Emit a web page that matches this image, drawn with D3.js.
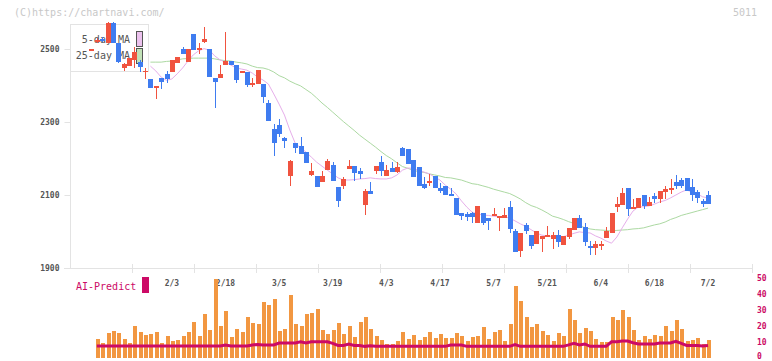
<!DOCTYPE html>
<html>
<head>
<meta charset="utf-8">
<script src="https://cdn.jsdelivr.net/npm/d3@7"></script>
<style>
  body { margin: 0; background: #fff; }
  svg text { font-family: "DejaVu Sans Mono", monospace; }
</style>
</head>
<body>
<svg id="chart" width="772" height="361"></svg>
<script>
/*************************
 *  data
 *************************/
const open = [
  2498, 2519, 2528, 2516, 2571, 2516, 2448, 2453, 2470, 2464,
  2439, 2418, 2393, 2421, 2432, 2437, 2462, 2500, 2464, 2541,
  2497, 2519, 2500, 2421, 2421, 2456, 2467, 2456, 2434, 2437,
  2401, 2404, 2404, 2352, 2281, 2292, 2256, 2152, 2242, 2234,
  2218, 2155, 2152, 2136, 2168, 2182, 2122, 2125, 2171, 2179,
  2166, 2073, 2111, 2166, 2190, 2152, 2174, 2163, 2229, 2226,
  2196, 2177, 2130, 2133, 2152, 2119, 2125, 2103, 2092, 2051,
  2048, 2051, 2023, 2051, 2037, 2042, 2037, 2037, 2067, 2001,
  1947, 2018, 1990, 1966, 1979, 1985, 1979, 1990, 1963, 1985,
  2004, 2037, 2012, 1960, 1955, 1960, 1982, 1996, 2067, 2073,
  2119, 2064, 2064, 2100, 2070, 2097, 2089, 2108, 2114, 2136,
  2141, 2147, 2122, 2108, 2084, 2100
]
const high = [
  2500, 2529, 2532, 2575, 2575, 2516, 2462, 2475, 2505, 2470,
  2448, 2418, 2399, 2421, 2440, 2470, 2478, 2505, 2500, 2541,
  2516, 2560, 2500, 2421, 2456, 2547, 2467, 2456, 2440, 2437,
  2421, 2442, 2404, 2360, 2295, 2308, 2259, 2196, 2242, 2259,
  2218, 2188, 2152, 2166, 2199, 2190, 2122, 2149, 2196, 2179,
  2174, 2116, 2136, 2179, 2207, 2182, 2190, 2190, 2232, 2226,
  2196, 2177, 2149, 2158, 2152, 2133, 2125, 2119, 2092, 2051,
  2053, 2053, 2070, 2051, 2037, 2064, 2042, 2064, 2084, 2007,
  1996, 2023, 1990, 2001, 1988, 2015, 1999, 2004, 1988, 2010,
  2037, 2045, 2023, 1974, 1974, 1974, 2012, 2051, 2095, 2119,
  2119, 2089, 2092, 2100, 2095, 2105, 2111, 2125, 2144, 2155,
  2147, 2147, 2144, 2114, 2089, 2111
]
const low = [
  2498, 2516, 2519, 2516, 2516, 2462, 2440, 2453, 2448, 2437,
  2418, 2393, 2363, 2390, 2407, 2437, 2462, 2486, 2464, 2497,
  2486, 2516, 2423, 2338, 2421, 2456, 2456, 2407, 2434, 2396,
  2396, 2404, 2352, 2303, 2207, 2259, 2229, 2125, 2215, 2212,
  2188, 2152, 2122, 2136, 2168, 2138, 2067, 2116, 2171, 2138,
  2144, 2045, 2103, 2158, 2152, 2152, 2163, 2160, 2207, 2185,
  2149, 2125, 2116, 2125, 2119, 2105, 2100, 2097, 2045, 2032,
  2029, 2023, 2023, 2018, 2004, 2042, 2001, 2037, 1996, 1944,
  1930, 1993, 1952, 1966, 1944, 1985, 1952, 1958, 1963, 1979,
  2004, 2010, 1960, 1936, 1936, 1949, 1982, 1996, 2053, 2073,
  2042, 2064, 2064, 2062, 2070, 2078, 2078, 2089, 2103, 2116,
  2119, 2111, 2084, 2078, 2067, 2075
]
const close = [
  2500, 2525, 2522, 2571, 2516, 2464, 2459, 2475, 2492, 2451,
  2441, 2393, 2399, 2410, 2418, 2470, 2478, 2486, 2500, 2497,
  2503, 2528, 2423, 2410, 2432, 2467, 2456, 2415, 2440, 2401,
  2407, 2442, 2368, 2303, 2242, 2267, 2248, 2193, 2229, 2212,
  2188, 2166, 2122, 2152, 2193, 2138, 2084, 2144, 2179, 2160,
  2158, 2111, 2103, 2179, 2166, 2168, 2163, 2177, 2207, 2185,
  2149, 2125, 2119, 2138, 2119, 2111, 2100, 2097, 2045, 2042,
  2040, 2040, 2070, 2023, 2029, 2048, 2042, 2045, 2007, 1944,
  1996, 2001, 1960, 2001, 1988, 1990, 1990, 1971, 1988, 2010,
  2037, 2010, 1971, 1955, 1966, 1966, 2001, 2051, 2075, 2105,
  2062, 2067, 2092, 2070, 2081, 2089, 2111, 2116, 2119, 2125,
  2125, 2111, 2100, 2092, 2075, 2075
]
const ma5 = [
  null, null, null, null, null, null, null, null, null, null,
  null, 2453, 2440, 2423, 2414, 2418, 2432, 2448, 2467, 2484,
  2495, 2501, 2497, 2481, 2470, 2464, 2456, 2448, 2445, 2442,
  2434, 2423, 2415, 2404, 2377, 2349, 2319, 2278, 2242, 2229,
  2218, 2204, 2190, 2179, 2168, 2158, 2147, 2141, 2141, 2142,
  2144, 2145, 2147, 2145, 2144, 2144, 2147, 2155, 2168, 2174,
  2173, 2167, 2163, 2158, 2149, 2141, 2127, 2116, 2103, 2084,
  2067, 2053, 2048, 2045, 2044, 2042, 2041, 2040, 2037, 2029,
  2021, 2014, 2005, 1996, 1990, 1988, 1986, 1985, 1986, 1990,
  1995, 1999, 1997, 1996, 1988, 1982, 1974, 1968, 1985, 2010,
  2034, 2056, 2067, 2068, 2070, 2075, 2081, 2085, 2092, 2100,
  2108, 2114, 2108, 2103, 2095, 2092
]
const ma25 = [
  null, null, null, null, null, null, null, null, null, null,
  null, 2464, 2464, 2464, 2466, 2467, 2470, 2473, 2474, 2475,
  2475, 2475, 2475, 2473, 2470, 2468, 2467, 2464, 2462, 2459,
  2453, 2449, 2448, 2444, 2437, 2427, 2421, 2412, 2405, 2399,
  2389, 2379, 2366, 2352, 2340, 2327, 2314, 2301, 2289, 2277,
  2264, 2253, 2242, 2231, 2219, 2208, 2199, 2188, 2178, 2173,
  2168, 2164, 2162, 2158, 2155, 2152, 2148, 2147, 2144, 2141,
  2136, 2131, 2129, 2125, 2121, 2116, 2112, 2108, 2104, 2097,
  2089, 2079, 2071, 2066, 2059, 2051, 2042, 2038, 2033, 2027,
  2022, 2015, 2011, 2007, 2005, 2004, 2003, 2001, 2003, 2004,
  2005, 2007, 2008, 2010, 2014, 2018, 2021, 2026, 2033, 2038,
  2044, 2048, 2052, 2056, 2060, 2064
]
const volume = [
  null, 11.9, 9.4, 15.6, 16.9, 15.6, 11.9, 9.4, 20, 16.3,
  14.4, 15, 16.3, 9.4, 13.8, 10.6, 11.3, 13.8, 16.3, 22.5,
  13.8, 27.5, 17.5, 49.4, 20, 29.4, 13.1, 18.1, 16.3, 25.6,
  21.9, 21.3, 35, 33.1, 36.9, 16.9, 18.1, 39.4, 21.3, 20,
  27.5, 28.1, 30.6, 17.5, 15, 17.5, 22, 15, 20, 13.1,
  22.5, 25.6, 18.1, 13.8, 11.3, 8.8, 8.8, 10.6, 16.3, 11.9,
  14.4, 11.3, 13.1, 16.3, 12.5, 15, 12.5, 12.5, 15.6, 13.8,
  10.6, 13.1, 13.8, 19.4, 11.9, 16.3, 17.5, 10.6, 21.3, 45,
  35.6, 25.6, 19.4, 21.3, 16.9, 14.4, 10.6, 15.6, 13.8, 30.6,
  23.8, 15.6, 18.8, 16.9, 11.9, 10, 10, 25.6, 23.8, 30,
  25.6, 17.5, 11.3, 13.8, 11.9, 14.4, 13.8, 20, 16.9, 23.8,
  18.1, 10.6, 11.3, 12.5, 8.8, 11.3
]
const aiPredict = [
  null, 7.5, 7.5, 7.5, 7.5, 7.5, 7.5, 7.5, 7.5, 7.5,
  7.5, 7.5, 7.5, 7.5, 7.5, 7.5, 7.5, 7.5, 7.5, 7.5,
  7.5, 7.5, 7.5, 7.5, 7.5, 8.2, 7.5, 7.5, 7.5, 7.5,
  8.2, 8.5, 8.2, 8.2, 8.2, 9.4, 9.4, 9.4, 9.4, 10.2,
  9.4, 10.2, 10.2, 10.2, 10.2, 9.2, 7.9, 7.9, 8.8, 7.9,
  7.9, 7.3, 7.7, 7.3, 7.3, 7.3, 7.3, 7.3, 7.3, 7.3,
  7.3, 7.3, 7.3, 7.3, 7.3, 7.3, 7.3, 8.2, 8.2, 8.2,
  7.3, 7.3, 7.3, 7.3, 7.3, 7.3, 7.3, 7.3, 7.3, 8.4,
  7.3, 7.3, 7.3, 7.3, 7.3, 7.3, 7.3, 7.3, 7.3, 8.2,
  9.2, 8.2, 8.8, 7.3, 7.3, 7.3, 7.3, 10.2, 10.2, 10.6,
  10.6, 9.6, 8.8, 8.8, 8.8, 8.8, 9.4, 9.4, 9.4, 10.4,
  9.2, 7.9, 7.9, 7.9, 7.5, 7.9
]
const dateLabels = ["2/3", "2/18", "3/5", "3/19", "4/3", "4/17", "5/7", "5/21", "6/4", "6/18", "7/2"]
const dateIndex = [15, 25, 35, 45, 55, 65, 75, 85, 95, 105, 115]
const priceTicks = [1900, 2100, 2300, 2500]
const volumeTicks = [0, 10, 20, 30, 40, 50]

const upColor = '#f0533f'
const downColor = '#3f7cf0'
const aiColor = '#cc0a66'

/*************************
 *  scales
 *************************/
const svg = d3.select('#chart')

let x = d3.scaleLinear()
    .domain([-4, 123.2])
    .range([70, 752])

let y = d3.scaleLinear()
    .domain([1900, 2500])
    .range([268, 49])

let yVol = d3.scaleLinear()
    .domain([0, 50])
    .range([358, 278.3])

let idx = d3.range(open.length)

// header texts
svg.append('text')
    .attr('x', 14).attr('y', 16)
    .attr('font-size', 10).attr('fill', '#c8c8c8')
    .text('(C)https://chartnavi.com/')

svg.append('text')
    .attr('x', 757).attr('y', 16)
    .attr('text-anchor', 'end')
    .attr('font-size', 10).attr('fill', '#c8c8c8')
    .text('5011')

/*************************
 *  frame + axes
 *************************/
let gridG = svg.append('g').attr('id', 'gridG')
    .attr('stroke', '#e3e3e3').attr('stroke-width', 1)
    .attr('shape-rendering', 'crispEdges')

gridG.append('line')
    .attr('x1', 70.5).attr('x2', 70.5).attr('y1', 24).attr('y2', 268)
gridG.append('line')
    .attr('x1', 64).attr('x2', 752).attr('y1', 268.5).attr('y2', 268.5)

let divX = d3.scaleLinear().domain([0, 11]).range([70, 752])
gridG.selectAll('.divTick')
    .data(d3.range(1, 12))
    .join('line')
    .attr('class', 'divTick')
    .attr('x1', d => Math.round(divX(d)) + 0.5)
    .attr('x2', d => Math.round(divX(d)) + 0.5)
    .attr('y1', 264).attr('y2', 273)

let axisLeft = d3.axisLeft(y)
    .tickValues(priceTicks)
    .tickSize(6)
    .tickPadding(5)
    .tickFormat(d3.format('d'))

let priceAxis = svg.append('g')
    .attr('id', 'priceAxis')
    .attr('transform', 'translate(70.5, 0)')
    .call(axisLeft)
priceAxis.select('.domain').remove()
priceAxis.selectAll('line').attr('stroke', '#e3e3e3')
priceAxis.selectAll('text')
    .attr('font-size', 8).attr('fill', '#555').attr('font-weight', 'bold')
    .style('font-family', '"DejaVu Sans Mono", monospace')

// volume scale labels on the right (kept inside the picture at the bottom)
svg.append('g').attr('id', 'volAxis')
    .selectAll('text')
    .data(volumeTicks)
    .join('text')
    .attr('x', 757)
    .attr('y', d => Math.min(yVol(d) + 2.5, 358.5))
    .attr('font-size', 8).attr('fill', aiColor).attr('font-weight', 'bold')
    .text(d => d)

svg.append('g').attr('id', 'dateLabels')
    .selectAll('text')
    .data(dateLabels)
    .join('text')
    .attr('x', (d, i) => x(dateIndex[i]))
    .attr('y', 285.5)
    .attr('text-anchor', 'middle')
    .attr('font-size', 8).attr('fill', '#555').attr('font-weight', 'bold')
    .text(d => d)

/*************************
 *  moving averages
 *************************/
const maLine = arr => d3.line()
    .defined(i => arr[i] != null)
    .x(i => x(i))
    .y(i => y(arr[i]))

svg.append('path')
    .attr('d', maLine(ma25)(idx))
    .attr('fill', 'none').attr('stroke', '#acd9a2').attr('stroke-width', 1)

svg.append('path')
    .attr('d', maLine(ma5)(idx))
    .attr('fill', 'none').attr('stroke', '#e6aeea').attr('stroke-width', 1)

/*************************
 *  legend
 *************************/
let legG = svg.append('g').attr('id', 'legendG')
legG.append('rect')
    .attr('x', 70.5).attr('y', 24.5).attr('width', 78).attr('height', 47)
    .attr('fill', '#fff').attr('stroke', '#e3e3e3')
legG.append('text')
    .attr('x', 130).attr('y', 43).attr('text-anchor', 'end')
    .attr('font-size', 10).attr('fill', '#555')
    .text('5-day MA')
legG.append('text')
    .attr('x', 130).attr('y', 59).attr('text-anchor', 'end')
    .attr('font-size', 10).attr('fill', '#555')
    .text('25-day MA')
legG.append('rect')
    .attr('x', 136.5).attr('y', 31.5).attr('width', 6).attr('height', 15)
    .attr('fill', '#ecc2ee').attr('stroke', '#555')
legG.append('rect')
    .attr('x', 136.5).attr('y', 48.5).attr('width', 6).attr('height', 15)
    .attr('fill', '#c2e2b8').attr('stroke', '#555')

/*************************
 *  candles
 *************************/
let candleG = svg.append('g').attr('id', 'candleG')
    .attr('shape-rendering', 'crispEdges')

candleG.selectAll('.wick')
    .data(idx)
    .join('line')
    .attr('class', 'wick')
    .attr('x1', i => Math.round(x(i)) + 0.5)
    .attr('x2', i => Math.round(x(i)) + 0.5)
    .attr('y1', i => y(high[i]))
    .attr('y2', i => y(low[i]))
    .attr('stroke', i => close[i] >= open[i] ? upColor : downColor)

candleG.selectAll('.body')
    .data(idx)
    .join('rect')
    .attr('class', 'body')
    .attr('x', i => Math.round(x(i)) - 2)
    .attr('width', 5)
    .attr('y', i => y(Math.max(open[i], close[i])))
    .attr('height', i => Math.max(1.5, Math.abs(y(open[i]) - y(close[i]))))
    .attr('fill', i => close[i] >= open[i] ? upColor : downColor)

/*************************
 *  volume + AI-Predict
 *************************/
svg.append('g').attr('id', 'volG')
    .attr('shape-rendering', 'crispEdges')
    .selectAll('rect')
    .data(idx.filter(i => volume[i] != null))
    .join('rect')
    .attr('x', i => Math.round(x(i)) - 1.5)
    .attr('width', 4)
    .attr('y', i => yVol(volume[i]))
    .attr('height', i => yVol(0) - yVol(volume[i]))
    .attr('fill', '#f29741')

svg.append('path')
    .attr('d', d3.line()
        .defined(i => aiPredict[i] != null)
        .x(i => x(i))
        .y(i => yVol(aiPredict[i]))(idx))
    .attr('fill', 'none')
    .attr('stroke', aiColor)
    .attr('stroke-width', 3)

svg.append('text')
    .attr('x', 76).attr('y', 290)
    .attr('font-size', 10).attr('fill', aiColor)
    .text('AI-Predict')
svg.append('rect')
    .attr('x', 142).attr('y', 277).attr('width', 7).attr('height', 16)
    .attr('fill', aiColor)
</script>
</body>
</html>
